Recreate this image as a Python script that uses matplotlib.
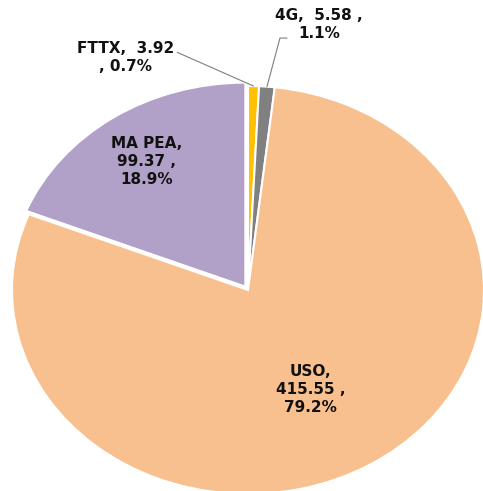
import numpy as np
import matplotlib.pyplot as plt

# Data
labels = ["FTTX", "4G", "USO", "MA PEA"]
values = [3.92, 5.58, 415.55, 99.37]
percents = ["0.7%", "1.1%", "79.2%", "18.9%"]
colors = ["#FFC000", "#808080", "#F8C08F", "#B1A0C7"]
explode = [0, 0, 0, 0.02]

fig = plt.figure(figsize=(4.83, 4.91), dpi=100)
ax = fig.add_axes([12 / 483, -3 / 491, 472 / 483, 408 / 491])

wedges, _ = ax.pie(values, colors=colors, startangle=90, counterclock=False,
                   explode=explode, radius=1,
                   wedgeprops=dict(edgecolor="white", linewidth=1.5))
ax.set_aspect("auto")
ax.set_xlim(-1, 1)
ax.set_ylim(-1, 1)

fs = 11
txt = dict(fontsize=fs, fontweight="bold", ha="center", va="center",
           color="#111111", linespacing=1.25, clip_on=False)

# labels inside slices
ax.text(-0.43, 0.63, "%s,\n%.2f ,\n%s" % (labels[3], values[3], percents[3]), **txt)
ax.text(0.265, -0.49, "%s,\n%.2f ,\n%s" % (labels[2], values[2], percents[2]), **txt)

# outside labels with leader lines
def edge_point(w, r=1.0):
    ang = np.deg2rad((w.theta1 + w.theta2) / 2)
    return r * np.cos(ang), r * np.sin(ang)

ax.text(-0.52, 1.14, "%s,  %.2f\n, %s" % (labels[0], values[0], percents[0]), **txt)
ax.annotate("", xy=edge_point(wedges[0]), xytext=(-0.3, 1.165),
            arrowprops=dict(arrowstyle="-", color="#7f7f7f", lw=0.8,
                            shrinkA=0, shrinkB=0), annotation_clip=False)

ax.text(0.30, 1.30, "%s,  %.2f ,\n%s" % (labels[1], values[1], percents[1]), **txt)
ax.annotate("", xy=edge_point(wedges[1]), xytext=(0.165, 1.235),
            arrowprops=dict(arrowstyle="-", color="#7f7f7f", lw=0.8,
                            shrinkA=0, shrinkB=0,
                            connectionstyle="angle,angleA=0,angleB=75,rad=0"),
            annotation_clip=False)

fig.savefig("out.png", dpi=100)
